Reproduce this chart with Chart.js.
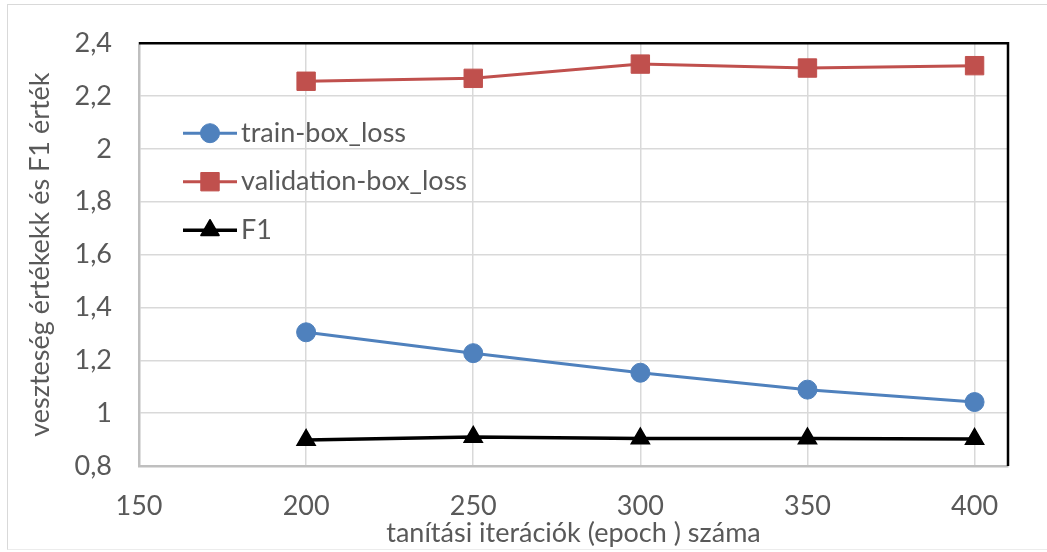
<!DOCTYPE html>
<html>
<head>
<meta charset="utf-8">
<title>Veszteség és F1 értékek</title>
<script src="https://cdn.jsdelivr.net/npm/chart.js@4.4.1/dist/chart.umd.min.js"></script>
<style>
  html, body { margin: 0; padding: 0; background: #ffffff; }
  #wrap { position: relative; width: 1047px; height: 552px; }
  #frame {
    position: absolute; left: 7px; top: 4px; width: 1060px; height: 544px;
    border-left: 1.5px solid #d9d9d9; border-top: 1.5px solid #d9d9d9; border-bottom: 1.5px solid #ececec;
    pointer-events: none;
  }
  canvas { position: absolute; left: 0; top: 0; }
</style>
</head>
<body>
<div id="wrap">
  <canvas id="chart" width="1047" height="552"></canvas>
  <div id="frame"></div>
</div>
<script>
// Epochs (x) and measured values per series
const epochs = [200, 250, 300, 350, 400];
const trainBoxLoss = [1.306, 1.227, 1.153, 1.089, 1.042];
const validationBoxLoss = [2.256, 2.267, 2.321, 2.306, 2.315];
const f1Score = [0.898, 0.910, 0.904, 0.904, 0.902];

// Axis ticks and their printed labels (Hungarian decimal comma)
const xTickValues = [150, 200, 250, 300, 350, 400];
const xTickLabels = ['150', '200', '250', '300', '350', '400'];
const yTickValues = [0.8, 1.0, 1.2, 1.4, 1.6, 1.8, 2.0, 2.2, 2.4];
const yTickLabels = ['0,8', '1', '1,2', '1,4', '1,6', '1,8', '2', '2,2', '2,4'];

const seriesNames = ['train-box_loss', 'validation-box_loss', 'F1'];
const xTitle = 'tanítási iterációk (epoch ) száma';
const yTitle = 'veszteség értékekk és F1 érték';

const FONT = 'Lato';
const FONT_SIZE = 27;
const TEXT = '#595959';

const toPoints = (ys) => epochs.map((x, i) => ({ x, y: ys[i] }));

function drawMarkerPath(ctx, style, r, x, y) {
  if (style === 'circle') {
    ctx.arc(x, y, r, 0, Math.PI * 2);
  } else if (style === 'rect') {
    const s = Math.SQRT1_2 * r;
    ctx.rect(x - s, y - s, 2 * s, 2 * s);
  } else if (style === 'triangle') {
    const h = Math.cos(Math.PI / 6) * r;
    ctx.moveTo(x, y - r);
    ctx.lineTo(x + h, y + r / 2);
    ctx.lineTo(x - h, y + r / 2);
    ctx.closePath();
  }
}

// Legend drawn inside the plot area, each entry as line + marker + label
const innerLegend = {
  id: 'innerLegend',
  afterDraw(chart) {
    const { ctx, chartArea } = chart;
    const x0 = chartArea.left + 44;
    const y0 = chartArea.top + 90;
    const rowGap = 48.5;
    ctx.save();
    chart.data.datasets.forEach((ds, i) => {
      const y = y0 + i * rowGap;
      ctx.strokeStyle = ds.borderColor;
      ctx.lineWidth = ds.borderWidth;
      ctx.beginPath();
      ctx.moveTo(x0, y);
      ctx.lineTo(x0 + 54, y);
      ctx.stroke();
      ctx.fillStyle = ds.pointBackgroundColor;
      ctx.strokeStyle = ds.pointBorderColor;
      ctx.lineWidth = ds.pointBorderWidth;
      ctx.lineJoin = 'round';
      ctx.beginPath();
      drawMarkerPath(ctx, ds.pointStyle, ds.pointRadius, x0 + 27, y);
      ctx.fill();
      ctx.stroke();
      ctx.fillStyle = TEXT;
      ctx.font = FONT_SIZE + 'px ' + FONT;
      ctx.textBaseline = 'middle';
      ctx.textAlign = 'left';
      ctx.fillText(ds.label, x0 + 58, y);
    });
    ctx.restore();
  }
};

// Dark top and right edges of the plot area
const plotEdges = {
  id: 'plotEdges',
  beforeDatasetsDraw(chart) {
    const { ctx, chartArea: a } = chart;
    ctx.save();
    ctx.strokeStyle = '#000000';
    ctx.lineWidth = 2.5;
    ctx.beginPath();
    ctx.moveTo(a.left, a.top);
    ctx.lineTo(a.right, a.top);
    ctx.lineTo(a.right, a.bottom);
    ctx.stroke();
    ctx.restore();
  }
};

new Chart(document.getElementById('chart'), {
  type: 'line',
  data: {
    datasets: [
      {
        label: seriesNames[0],
        data: toPoints(trainBoxLoss),
        borderColor: '#4f81bd',
        backgroundColor: '#4f81bd',
        pointBackgroundColor: '#4f81bd',
        pointBorderColor: '#4f81bd',
        borderWidth: 3,
        pointStyle: 'circle',
        pointRadius: 9.5,
        pointBorderWidth: 1
      },
      {
        label: seriesNames[1],
        data: toPoints(validationBoxLoss),
        borderColor: '#c0504d',
        backgroundColor: '#c0504d',
        pointBackgroundColor: '#c0504d',
        pointBorderColor: '#c0504d',
        borderWidth: 3,
        pointStyle: 'rect',
        pointRadius: 13,
        pointBorderWidth: 1
      },
      {
        label: seriesNames[2],
        data: toPoints(f1Score),
        borderColor: '#000000',
        backgroundColor: '#000000',
        pointBackgroundColor: '#000000',
        pointBorderColor: '#000000',
        borderWidth: 3.5,
        pointStyle: 'triangle',
        pointRadius: 10.5,
        pointBorderWidth: 1.5
      }
    ]
  },
  options: {
    responsive: false,
    animation: false,
    events: [],
    layout: { padding: { top: 40, right: 39, left: 0, bottom: 0 } },
    plugins: {
      legend: { display: false },
      tooltip: { enabled: false }
    },
    scales: {
      x: {
        type: 'linear',
        min: 150,
        max: 410,
        afterBuildTicks: (s) => { s.ticks = xTickValues.map(v => ({ value: v })); },
        afterFit: (s) => { s.height = 86; },
        grid: { color: '#d9d9d9', lineWidth: 1.5, drawTicks: false },
        border: { color: '#bfbfbf', width: 2.5 },
        ticks: {
          padding: 24,
          color: TEXT,
          font: { family: FONT, size: FONT_SIZE },
          maxRotation: 0,
          callback: (v) => xTickLabels[xTickValues.indexOf(v)]
        },
        title: {
          display: true,
          text: xTitle,
          color: TEXT,
          font: { family: FONT, size: FONT_SIZE },
          padding: { top: 0, bottom: 3 }
        }
      },
      y: {
        min: 0.8,
        max: 2.4,
        afterBuildTicks: (s) => { s.ticks = yTickValues.map(v => ({ value: v })); },
        afterFit: (s) => { s.width = 139; },
        grid: { color: '#d9d9d9', lineWidth: 1.5, drawTicks: false },
        border: { color: '#bfbfbf', width: 2.5 },
        ticks: {
          padding: 27,
          color: TEXT,
          font: { family: FONT, size: FONT_SIZE },
          callback: (v, i) => yTickLabels[i]
        },
        title: {
          display: true,
          text: yTitle,
          color: TEXT,
          font: { family: FONT, size: FONT_SIZE },
          padding: { top: 24, bottom: 0 }
        }
      }
    }
  },
  plugins: [plotEdges, innerLegend]
});
</script>
</body>
</html>
